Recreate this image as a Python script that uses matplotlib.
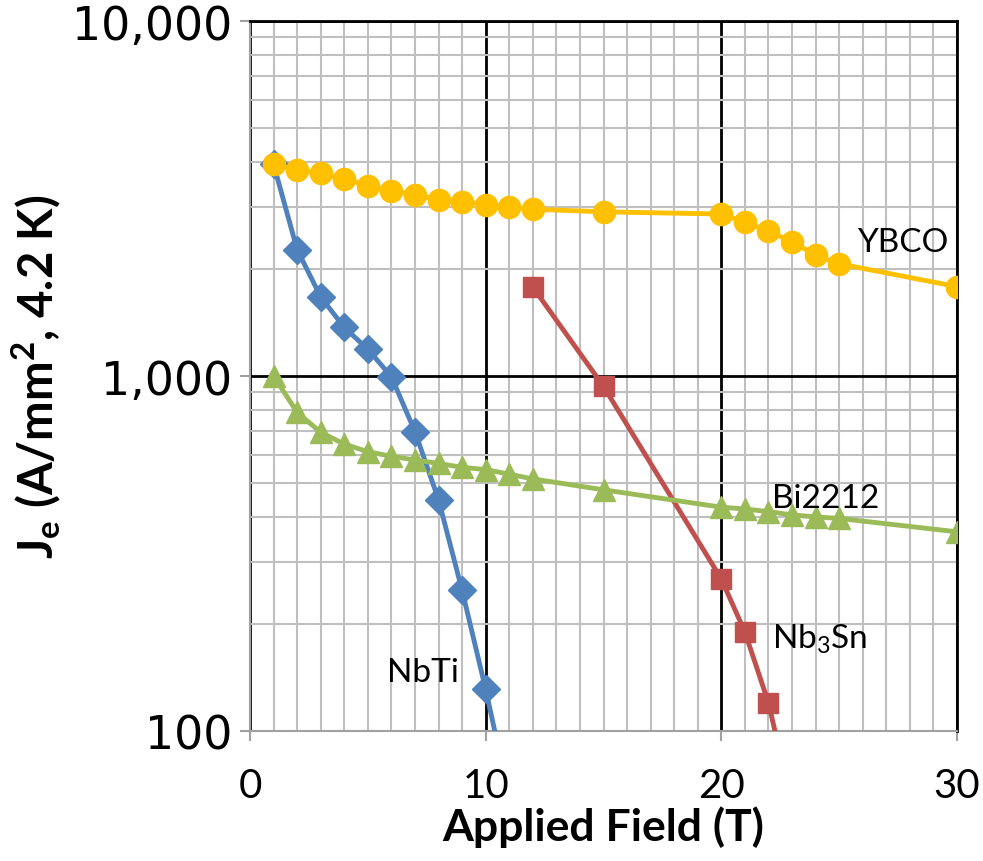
import matplotlib
matplotlib.use("Agg")
import matplotlib.pyplot as plt
from matplotlib.ticker import FixedLocator, FuncFormatter, NullFormatter

plt.rcParams["font.family"] = ["Lato", "DejaVu Sans"]
plt.rcParams["mathtext.default"] = "regular"

# data
ybco_x = [1, 2, 3, 4, 5, 6, 7, 8, 9, 10, 11, 12, 15, 20, 21, 22, 23, 24, 25, 30]
ybco_y = [3950, 3800, 3730, 3590, 3440, 3330, 3240, 3140, 3100, 3040, 2990, 2950,
          2900, 2860, 2710, 2560, 2390, 2190, 2070, 1785]

nbti_x = [1, 2, 3, 4, 5, 6, 7, 8, 9, 10, 11]
nbti_y = [3950, 2270, 1670, 1370, 1190, 995, 697, 448, 249, 131, 65]

nb3sn_x = [12, 15, 20, 21, 22, 23]
nb3sn_y = [1780, 935, 268, 190, 120, 62]

bi_x = [1, 2, 3, 4, 5, 6, 7, 8, 9, 10, 11, 12, 15, 20, 21, 22, 23, 24, 25, 30]
bi_y = [1000, 790, 694, 643, 612, 594, 580, 567, 553, 545, 529, 513,
        478, 427, 422, 415, 406, 401, 397, 364]

fig = plt.figure(figsize=(9.83, 8.62), dpi=100)
ax = fig.add_axes([250 / 983, 1 - 732 / 862, 707 / 983, 710 / 862])

ax.set_yscale("log")
ax.set_xlim(0, 30)
ax.set_ylim(100, 10000)

# grid
ax.xaxis.set_major_locator(FixedLocator([0, 10, 20, 30]))
ax.xaxis.set_minor_locator(FixedLocator(range(1, 30)))
ax.yaxis.set_major_locator(FixedLocator([100, 1000, 10000]))
ax.yaxis.set_minor_locator(FixedLocator([m * d for d in (100, 1000) for m in range(2, 10)]))
ax.yaxis.set_minor_formatter(NullFormatter())
ax.yaxis.set_major_formatter(FuncFormatter(lambda v, p: f"{int(v):,}"))

ax.grid(True, which="minor", color="#bfbfbf", linewidth=1.5, zorder=0)
ax.grid(True, which="major", color="black", linewidth=2, zorder=0)
ax.set_axisbelow(True)

for s in ("left", "bottom"):
    ax.spines[s].set_color("#a0a0a0")
    ax.spines[s].set_linewidth(1.5)
for s in ("top", "right"):
    ax.spines[s].set_color("black")
    ax.spines[s].set_linewidth(2)

ax.tick_params(which="major", direction="out", length=7, width=1.5, color="#a0a0a0")
ax.tick_params(which="minor", length=0)
ax.tick_params(axis="x", pad=19)
ax.tick_params(axis="y", pad=6)
for t in ax.get_xticklabels():
    t.set_fontsize(29)
for t in ax.get_yticklabels():
    t.set_fontsize(33)
    t.set_family("DejaVu Sans")

lw = 3.5
ax.plot(nbti_x, nbti_y, color="#4f81bd", lw=lw, marker="D", ms=14, zorder=3)
ax.plot(nb3sn_x, nb3sn_y, color="#c0504d", lw=lw, marker="s", ms=15, zorder=3)
ax.plot(bi_x, bi_y, color="#9bbb59", lw=lw, marker="^", ms=16, zorder=3)
ax.plot(ybco_x, ybco_y, color="#ffc000", lw=lw, marker="o", ms=16, zorder=4)

ax.text(25.75, 2380, "YBCO", fontsize=24, va="center", ha="left")
ax.text(22.15, 452, "Bi2212", fontsize=24, va="center", ha="left")
ax.text(7.35, 147, "NbTi", fontsize=24, va="center", ha="center")
ax.text(22.15, 182, "Nb$_3$Sn", fontsize=24, va="center", ha="left")

ax.set_xlabel("Applied Field (T)", fontsize=32, fontweight="bold", labelpad=1)
ax.set_ylabel("J$_e$ (A/mm$^2$, 4.2 K)", fontsize=34, fontweight="bold", labelpad=6)

fig.savefig("out.png", dpi=100)
